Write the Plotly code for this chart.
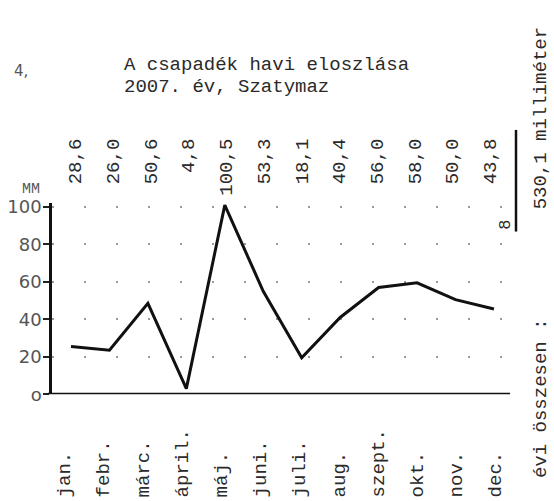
import plotly.graph_objects as go

# ---------------- data ----------------
months = ["jan.", "febr.", "márc.", "ápril.", "máj.", "juni.",
          "juli.", "aug.", "szept.", "okt.", "nov.", "dec."]
value_labels = ["28,6", "26,0", "50,6", "4,8", "100,5", "53,3",
                "18,1", "40,4", "56,0", "58,0", "50,0", "43,8"]
# values as drawn by the plotted line (mm)
line_mm = [25.5, 23.5, 48.5, 3.0, 101.0, 55.0, 19.5, 41.0, 57.0, 59.5, 50.5, 45.5]
y_tickvals = [0, 20, 40, 60, 80, 100]
y_ticktext = ["o", "20", "40", "60", "80", "100"]
title_lines = ["A csapadék havi eloszlása", "2007. év, Szatymaz"]
total_text = "530,1 milliméter"
total_label = "évi összesen :"

# ---------------- layout helpers ----------------
W, H = 554, 501
def fx(px):
    return px / W
def fy(py):
    return 1 - py / H

X0, X1 = 52, 510          # plot domain in px
Y_BOT, Y_TOP = 401, 203   # plot domain in px
YMAX = 102.4

def cat_range(first_px, step_px):
    r0 = -(first_px - X0) / step_px
    return [r0, r0 + (X1 - X0) / step_px]

TYPE = "Liberation Mono"
INK = "#2a2a2a"
NB = "\u00a0"

fig = go.Figure()

# main line
fig.add_trace(go.Scatter(
    x=months, y=line_mm, mode="lines", xaxis="x", yaxis="y",
    line=dict(color="#111111", width=3), hoverinfo="skip", showlegend=False))

# invisible carriers for the label axes
fig.add_trace(go.Scatter(x=months, y=line_mm, mode="markers", xaxis="x2", yaxis="y",
                         marker=dict(opacity=0), hoverinfo="skip", showlegend=False))
fig.add_trace(go.Scatter(x=months, y=line_mm, mode="markers", xaxis="x3", yaxis="y",
                         marker=dict(opacity=0), hoverinfo="skip", showlegend=False))

month_text = [m + NB * (6 - len(m)) for m in months]
val_text = [NB * (3 - v.index(",")) + v for v in value_labels]

common_x = dict(domain=[fx(X0), fx(X1)], type="category", categoryorder="array",
                categoryarray=months, showgrid=False, zeroline=False, showline=False)

fig.update_layout(
    width=W, height=H,
    margin=dict(l=0, r=0, t=0, b=0),
    paper_bgcolor="white", plot_bgcolor="white",
    showlegend=False,
    xaxis=dict(**common_x, range=cat_range(71, 38.45), showticklabels=False, ticks=""),
    xaxis2=dict(**common_x, overlaying="x", anchor="y", side="bottom",
                range=cat_range(64, 39.2), tickmode="array", tickvals=months,
                ticktext=month_text, tickangle=-90, ticks="", ticklabelstandoff=30,
                tickfont=dict(family=TYPE, size=19, color=INK)),
    xaxis3=dict(**common_x, overlaying="x", anchor="free", position=fy(196), side="top",
                range=cat_range(75, 37.73), tickmode="array", tickvals=months,
                ticktext=val_text, tickangle=-90, ticks="", ticklabelstandoff=0,
                tickfont=dict(family=TYPE, size=19, color=INK)),
    yaxis=dict(domain=[fy(Y_BOT), fy(Y_TOP)], range=[0, YMAX], anchor="x",
               tickmode="array", tickvals=y_tickvals, ticktext=y_ticktext,
               ticks="outside", ticklen=6, tickwidth=2, tickcolor="#222",
               showline=True, linewidth=2.5, linecolor="#111",
               showgrid=True, gridcolor="#9a9a9a", gridwidth=1.5, griddash="2px,30px",
               zeroline=False, ticklabelstandoff=-2,
               tickfont=dict(family="DejaVu Sans", size=18, color="#555")),
)

# horizontal axis line
fig.add_shape(type="line", xref="paper", yref="y", x0=fx(48), x1=fx(X1), y0=0, y1=0,
              line=dict(color="#111", width=3))
# vertical rule near the total
fig.add_shape(type="line", xref="paper", yref="paper", x0=fx(516), x1=fx(516),
              y0=fy(233), y1=fy(128), line=dict(color="#111", width=2.5))

ann = []
ann.append(dict(text=title_lines[0], x=fx(122), y=fy(61), xanchor="left", yanchor="middle",
                font=dict(family=TYPE, size=19, color=INK)))
ann.append(dict(text=title_lines[1], x=fx(122), y=fy(84), xanchor="left", yanchor="middle",
                font=dict(family=TYPE, size=19, color=INK)))
ann.append(dict(text="4,", x=fx(21), y=fy(67), xanchor="center", yanchor="middle",
                font=dict(family="DejaVu Sans", size=15, color="#555")))
ann.append(dict(text="MM", x=fx(31), y=fy(190), xanchor="center", yanchor="middle",
                font=dict(family=TYPE, size=15, color="#555")))
ann.append(dict(text="8", x=fx(506), y=fy(226), xanchor="center", yanchor="middle",
                textangle=-90, font=dict(family=TYPE, size=17, color=INK)))
ann.append(dict(text=total_text, x=fx(541), y=fy(116), xanchor="center", yanchor="middle",
                textangle=-90, font=dict(family=TYPE, size=19, color=INK)))
ann.append(dict(text=total_label, x=fx(541), y=fy(405), xanchor="center", yanchor="middle",
                textangle=-90, font=dict(family=TYPE, size=19, color=INK)))
for a in ann:
    a.update(xref="paper", yref="paper", showarrow=False)
fig.update_layout(annotations=ann)

fig.write_html("out.html", config={"displayModeBar": False},
               post_script="document.body.style.margin='0';")
